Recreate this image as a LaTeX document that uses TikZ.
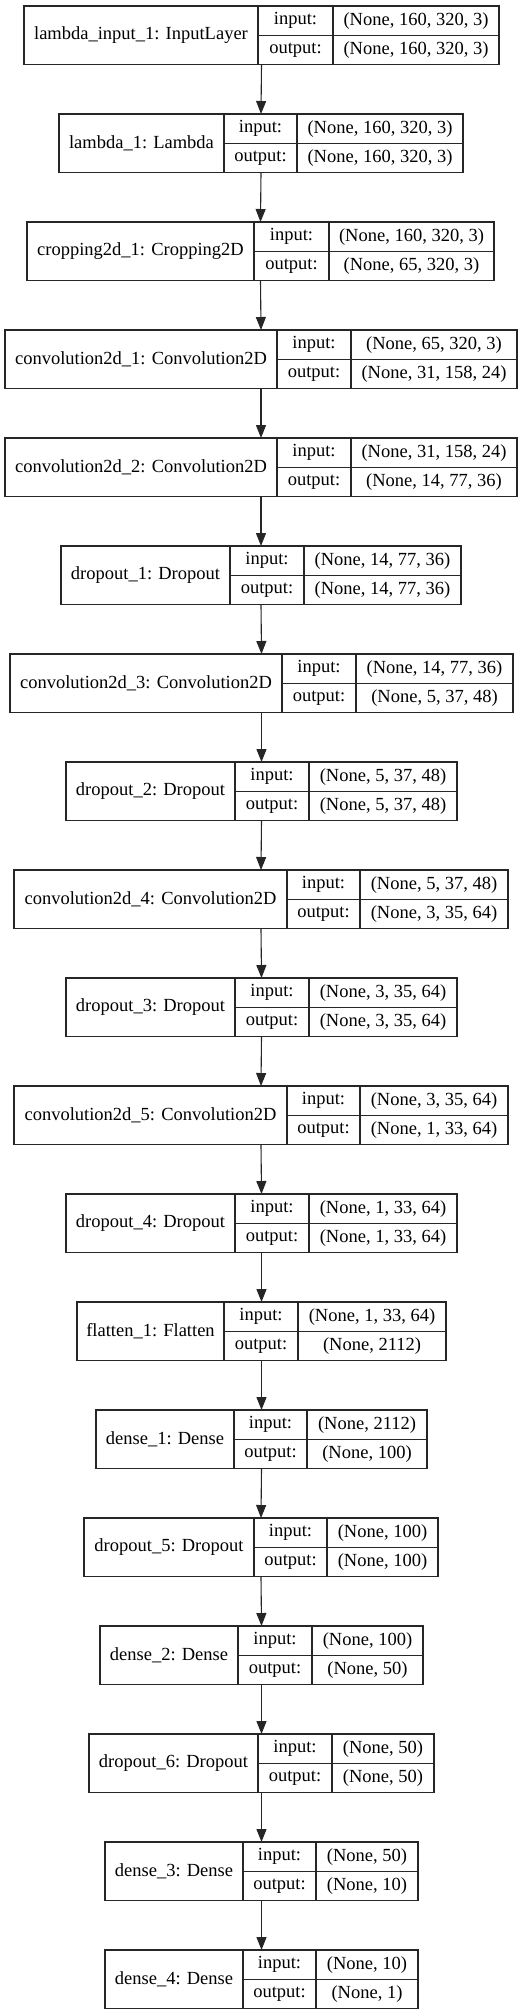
\documentclass[tikz,border=0pt]{standalone}
\usepackage{fontspec}
\setmainfont{Liberation Serif}
\usepackage{tikz}
\usetikzlibrary{positioning,arrows.meta}
\tikzset{
	layerbox/.style={rectangle,draw,color=black!85,line width=1.1pt,inner sep=0,outer sep=0,minimum height=58.5pt},
	namecell/.style={rectangle,draw,color=black!85,text=black,line width=1.1pt,inner sep=0,outer sep=0,minimum height=58.5pt},
	halfcell/.style={rectangle,draw,color=black!85,text=black,line width=1.1pt,inner sep=0,outer sep=0,minimum height=29.25pt},
	flow/.style={-{Triangle[width=10pt,length=13pt]},color=black!85,line width=1.1pt}
}
% one layer: id, top, x0, x1, x2, x3, name, input, output
\newcommand{\netlayer}[9]{%
	\pgfmathsetmacro\wall{#6-#3}
	\pgfmathsetmacro\wa{#4-#3}
	\pgfmathsetmacro\wb{#5-#4}
	\pgfmathsetmacro\wc{#6-#5}
	\node[layerbox,minimum width=\wall pt,anchor=north west] (#1) at (#3,#2) {};
	\node[namecell,minimum width=\wa pt,anchor=north west] (#1-name) at (#1.north west) {#7};
	\node[halfcell,minimum width=\wb pt,anchor=north west] (#1-inl) at (#1-name.north east) {input:};
	\node[halfcell,minimum width=\wb pt,anchor=north west] (#1-outl) at (#1-inl.south west) {output:};
	\node[halfcell,minimum width=\wc pt,anchor=north west] (#1-inv) at (#1-inl.north east) {#8};
	\node[halfcell,minimum width=\wc pt,anchor=north west] (#1-outv) at (#1-inv.south west) {#9};
}

\begin{document}
\begin{tikzpicture}[x=1pt,y=-1pt,font=\fontsize{18.5pt}{22pt}\selectfont]
\useasboundingbox (0,0) rectangle (526,2015);

    \netlayer{inp}{6}{24}{258}{333}{499}{lambda\_input\_1: InputLayer}{(None, 160, 320, 3)}{(None, 160, 320, 3)}
    \netlayer{lam}{114}{59}{224}{297}{463}{lambda\_1: Lambda}{(None, 160, 320, 3)}{(None, 160, 320, 3)}
    \netlayer{crop}{222}{27}{254}{329}{494}{cropping2d\_1: Cropping2D}{(None, 160, 320, 3)}{(None, 65, 320, 3)}
    \netlayer{convA}{330}{5}{277}{351}{517}{convolution2d\_1: Convolution2D}{(None, 65, 320, 3)}{(None, 31, 158, 24)}
    \netlayer{convB}{438}{5}{277}{351}{517}{convolution2d\_2: Convolution2D}{(None, 31, 158, 24)}{(None, 14, 77, 36)}
    \netlayer{dropA}{546}{61}{230}{304}{461}{dropout\_1: Dropout}{(None, 14, 77, 36)}{(None, 14, 77, 36)}
    \netlayer{convC}{654}{10}{282}{356}{513}{convolution2d\_3: Convolution2D}{(None, 14, 77, 36)}{(None, 5, 37, 48)}
    \netlayer{dropB}{762}{66}{235}{309}{457}{dropout\_2: Dropout}{(None, 5, 37, 48)}{(None, 5, 37, 48)}
    \netlayer{convD}{870}{14}{287}{360}{508}{convolution2d\_4: Convolution2D}{(None, 5, 37, 48)}{(None, 3, 35, 64)}
    \netlayer{dropC}{978}{66}{235}{309}{457}{dropout\_3: Dropout}{(None, 3, 35, 64)}{(None, 3, 35, 64)}
    \netlayer{convE}{1086}{14}{287}{360}{508}{convolution2d\_5: Convolution2D}{(None, 3, 35, 64)}{(None, 1, 33, 64)}
    \netlayer{dropD}{1194}{66}{235}{309}{457}{dropout\_4: Dropout}{(None, 1, 33, 64)}{(None, 1, 33, 64)}
    \netlayer{flat}{1302}{77}{224}{298}{446}{flatten\_1: Flatten}{(None, 1, 33, 64)}{(None, 2112)}
    \netlayer{denseA}{1410}{96}{234}{307}{427}{dense\_1: Dense}{(None, 2112)}{(None, 100)}
    \netlayer{dropE}{1518}{84}{254}{327}{438}{dropout\_5: Dropout}{(None, 100)}{(None, 100)}
    \netlayer{denseB}{1626}{100}{238}{312}{423}{dense\_2: Dense}{(None, 100)}{(None, 50)}
    \netlayer{dropF}{1734}{89}{258}{332}{434}{dropout\_6: Dropout}{(None, 50)}{(None, 50)}
    \netlayer{denseC}{1842}{105}{243}{316}{418}{dense\_3: Dense}{(None, 50)}{(None, 10)}
    \netlayer{denseD}{1950}{105}{243}{316}{418}{dense\_4: Dense}{(None, 10)}{(None, 1)}

    \draw[flow] (inp.south) -- (lam.north);
    \draw[flow] (lam.south) -- (crop.north);
    \draw[flow] (crop.south) -- (convA.north);
    \draw[flow] (convA.south) -- (convB.north);
    \draw[flow] (convB.south) -- (dropA.north);
    \draw[flow] (dropA.south) -- (convC.north);
    \draw[flow] (convC.south) -- (dropB.north);
    \draw[flow] (dropB.south) -- (convD.north);
    \draw[flow] (convD.south) -- (dropC.north);
    \draw[flow] (dropC.south) -- (convE.north);
    \draw[flow] (convE.south) -- (dropD.north);
    \draw[flow] (dropD.south) -- (flat.north);
    \draw[flow] (flat.south) -- (denseA.north);
    \draw[flow] (denseA.south) -- (dropE.north);
    \draw[flow] (dropE.south) -- (denseB.north);
    \draw[flow] (denseB.south) -- (dropF.north);
    \draw[flow] (dropF.south) -- (denseC.north);
    \draw[flow] (denseC.south) -- (denseD.north);
\end{tikzpicture}
\end{document}
